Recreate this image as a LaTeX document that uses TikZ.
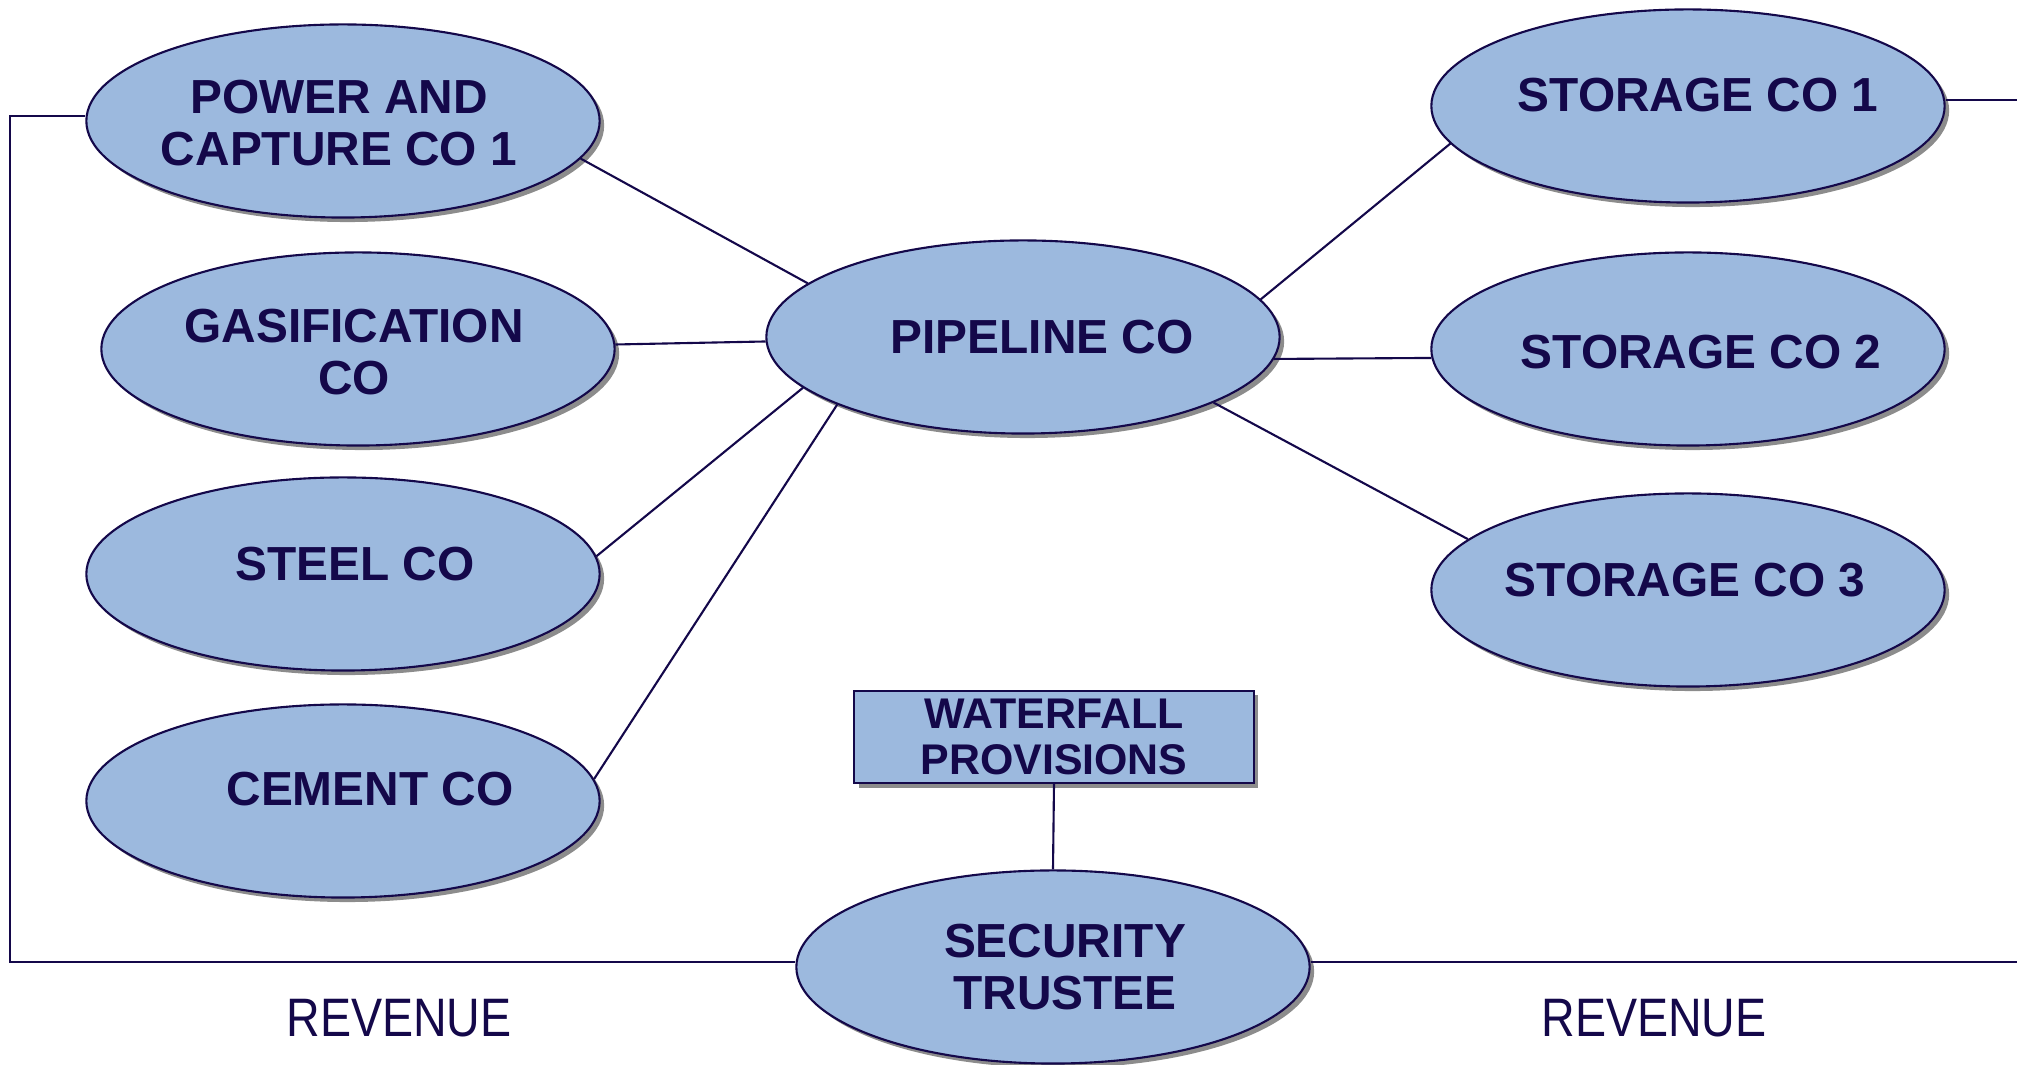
\documentclass[tikz,border=0pt]{standalone}
\usepackage{fontspec}
\setmainfont{Liberation Sans}
\newfontfamily\narrowfont[FakeStretch=0.86]{Liberation Sans}
\usetikzlibrary{shapes.geometric,shadows}
\definecolor{orgfill}{HTML}{9CB9DE}
\definecolor{orgline}{HTML}{14084A}
\tikzset{
  boxshadow/.style={drop shadow={shadow xshift=0.045cm, shadow yshift=-0.045cm, fill=gray!90, opacity=1}},
  org/.style={ellipse, draw=orgline, line width=0.6pt, fill=orgfill,
    minimum width=5.13cm, minimum height=1.93cm, inner sep=0pt, boxshadow},
  orgtext/.style={font=\fontsize{13.6}{14.8}\selectfont\bfseries, text=orgline, align=center, inner sep=0pt},
  wfbox/.style={rectangle, draw=orgline, line width=0.6pt, fill=orgfill,
    minimum width=3.99cm, minimum height=0.92cm, inner sep=0pt, boxshadow,
    font=\fontsize{12.2}{13.2}\selectfont\bfseries, text=orgline, align=center},
  link/.style={draw=orgline, line width=0.6pt},
  revtext/.style={font=\narrowfont\fontsize{15.4}{18}\selectfont, text=orgline, inner sep=0pt}
}
\begin{document}
\begin{tikzpicture}[x=0.01cm, y=-0.01cm]
  \useasboundingbox (0,0) rectangle (2017,1065);

  % companies on the left
  \node[org, label={[orgtext, shift={(-4,2)}]center:{POWER AND\\CAPTURE CO 1}}] (power) at (343,121) {};
  \node[org, label={[orgtext, shift={(-4,3)}]center:{GASIFICATION\\CO}}] (gas) at (358,349) {};
  \node[org, label={[orgtext, shift={(12,-10)}]center:{STEEL CO}}] (steel) at (343,574) {};
  \node[org, label={[orgtext, shift={(27,-12)}]center:{CEMENT CO}}] (cement) at (343,801) {};

  % pipeline and storage
  \node[org, label={[orgtext, shift={(19,0)}]center:{PIPELINE CO}}] (pipe) at (1023,337) {};
  \node[org, label={[orgtext, shift={(10,-11)}]center:{STORAGE CO 1}}] (stor1) at (1688,106) {};
  \node[org, label={[orgtext, shift={(13,3)}]center:{STORAGE CO 2}}] (stor2) at (1688,349) {};
  \node[org, label={[orgtext, shift={(-3,-10)}]center:{STORAGE CO 3}}] (stor3) at (1688,590) {};

  % trustee
  \node[wfbox] (wf) at (1054,737) {WATERFALL\\PROVISIONS};
  \node[org, label={[orgtext, shift={(12,0)}]center:{SECURITY\\TRUSTEE}}] (trustee) at (1053,967) {};

  \node[revtext] (revL) at (399,1018) {REVENUE};
  \node[revtext] (revR) at (1654,1018) {REVENUE};

  \coordinate (topL) at (10,116);
  \coordinate (loopL) at (10,962);
  \coordinate (topR) at (2017,100);
  \coordinate (loopR) at (2017,962);

  % links to the pipeline
  \draw[link] (power.-9) -- (pipe.166);
  \draw[link] (gas.1) -- (pipe.181);
  \draw[link] (steel.4) -- (pipe.193);
  \draw[link] (cement.5) -- (pipe.200);
  \draw[link] (pipe.9) -- (stor1.189);
  \draw[link] (pipe.-5) -- (stor2.182);
  \draw[link] (pipe.-19) -- (stor3.167);

  % revenue lines
  \draw[link] (wf.south) -- (trustee.north);
  \draw[link] (topL -| power.west) -- (topL) -- (loopL) -- (loopL -| trustee.west);
  \draw[link] (loopL -| trustee.east) -- (loopR);
  \draw[link] (topR -| stor1.east) -- (topR);
\end{tikzpicture}
\end{document}
